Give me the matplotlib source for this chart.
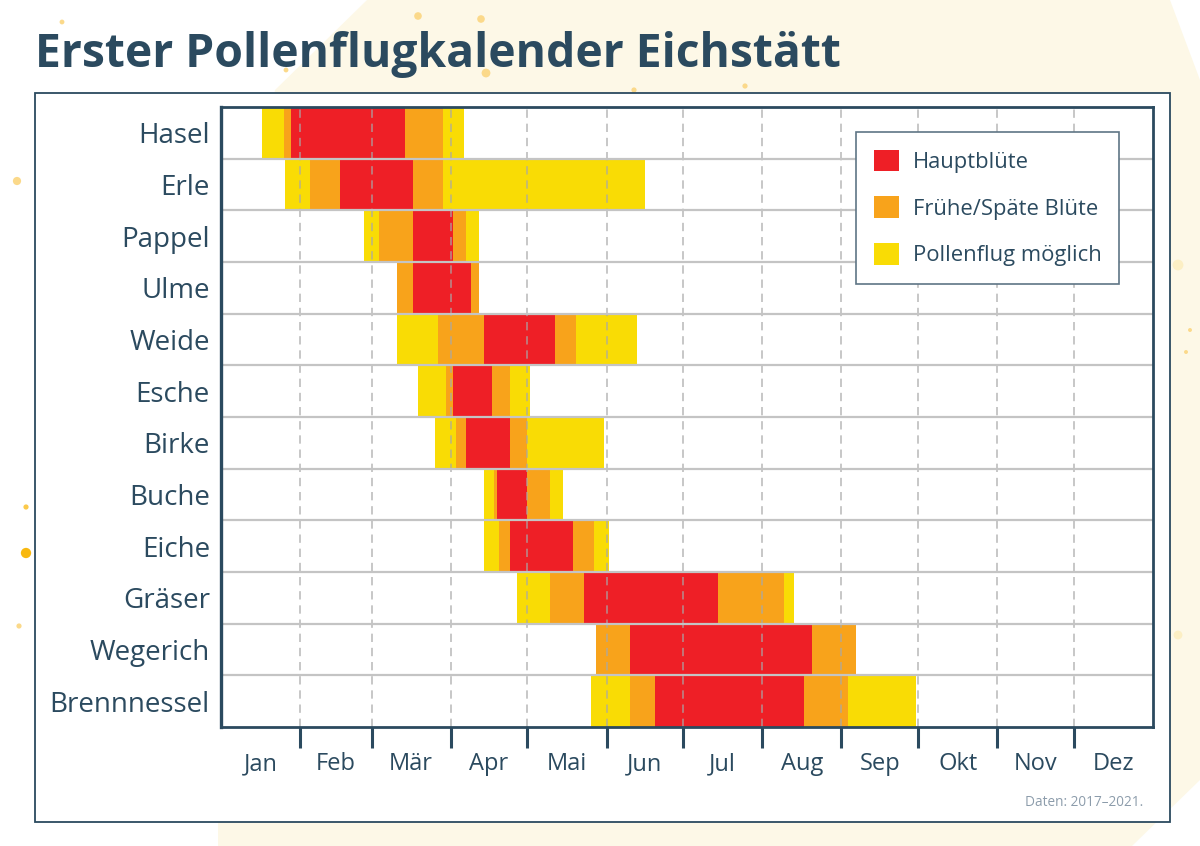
import matplotlib.pyplot as plt
import matplotlib.patches as mpatches
import numpy as np

# plants, top to bottom
plants = ["Hasel", "Erle", "Pappel", "Ulme", "Weide", "Esche", "Birke",
          "Buche", "Eiche", "Gräser", "Wegerich", "Brennnessel"]

# segment boundaries (day of year) and the stage of each segment
# Y = Pollenflug möglich, O = Frühe/Späte Blüte, R = Hauptblüte
bounds = [
    [16, 24.5, 27.5, 72, 87, 95],
    [25, 35, 46.5, 75, 87, 166],
    [56, 62, 75, 91, 96, 101],
    [69, 75, 98, 101],
    [69, 85, 103, 131, 139, 163],
    [77, 88, 91, 106, 113, 121],
    [84, 92, 96, 113, 120, 150],
    [103, 107, 108, 120, 129, 134],
    [103, 109, 113, 138, 146, 152],
    [116, 129, 142, 194.5, 220.5, 224.5],
    [147, 160, 231.5, 248.5],
    [145, 160, 170, 228.5, 245.5, 272],
]
stages = ["YOROY", "YOROY", "YOROY", "ORO", "YOROY", "YOROY", "YOROY",
          "YOROY", "YOROY", "YOROY", "ORO", "YOROY"]

months = ["Jan", "Feb", "Mär", "Apr", "Mai", "Jun", "Jul", "Aug", "Sep",
          "Okt", "Nov", "Dez"]
month_days = [31, 28, 31, 30, 31, 30, 31, 31, 30, 31, 30, 31]

stage_names = {"R": "Hauptblüte", "O": "Frühe/Späte Blüte", "Y": "Pollenflug möglich"}
stage_colors = {"R": "#ee1f26", "O": "#f8a31b", "Y": "#f9dc05"}

dark = "#2b4a5f"
plt.rcParams['font.family'] = ['Open Sans', 'DejaVu Sans']

W, H = 1200, 846
fig = plt.figure(figsize=(W / 100, H / 100), dpi=100)

# background decoration
bg = fig.add_axes([0, 0, 1, 1])
bg.set_xlim(0, W)
bg.set_ylim(H, 0)
bg.axis('off')
bg.add_patch(mpatches.Polygon([(367, 0), (1170, 0), (1200, 80), (1200, 780), (1132, 846),
                               (218, 846), (218, 420), (275, 90)],
                              closed=True, facecolor="#fdf8e7", edgecolor="none"))
dots_x = [62, 418, 481, 286, 486, 634, 745, 17, 26, 26, 19, 1178, 1190, 1186, 1178]
dots_y = [22, 16, 19, 70, 73, 90, 86, 181, 507, 553, 626, 265, 330, 352, 635]
dots_s = [12, 30, 30, 12, 40, 14, 14, 35, 14, 55, 14, 60, 8, 8, 40]
dots_c = ["#fbd98a", "#fbd98a", "#fbd98a", "#fbd98a", "#fbd98a", "#fbd98a", "#fbd98a",
          "#fbd98a", "#fbc94a", "#f8b80f", "#fbd98a", "#fcefc4", "#fbd98a", "#fbd98a", "#fcefc4"]
bg.scatter(dots_x, dots_y, s=dots_s, c=dots_c, edgecolors="none")
bg.add_patch(mpatches.Rectangle((35, 93), 1135, 729, facecolor="white",
                                edgecolor=dark, linewidth=1.3))

fig.text(35 / W, 1 - 67 / H, "Erster Pollenflugkalender Eichstätt", fontsize=33.3,
         fontweight='bold', color=dark, va='baseline', ha='left')
fig.text(1143 / W, 1 - 802 / H, "Daten: 2017–2021.", fontsize=9.8, color="#8c9cab",
         ha='right', va='center')

ax = fig.add_axes([221 / W, 1 - 727 / H, (1153 - 221) / W, (727 - 107) / H])

for i, (b, st) in enumerate(zip(bounds, stages)):
    for k, s in enumerate(st):
        ax.barh(i + 0.5, b[k + 1] - b[k], left=b[k], height=1.0,
                color=stage_colors[s], edgecolor='none', zorder=2)

ax.set_xlim(0, 365)
ax.set_ylim(len(plants), 0)

edges = np.cumsum([0] + month_days)
centers = (edges[:-1] + edges[1:]) / 2

for x in edges[1:-1]:
    ax.axvline(x, color="#a8a8a8", alpha=0.75, lw=1.2, ls=(0, (5, 3.5)), zorder=3)
for y in range(1, len(plants)):
    ax.axhline(y, color="#c4c4c4", lw=1.6, zorder=3)

ax.set_xticks(edges[1:-1])
ax.set_xticklabels([])
ax.tick_params(axis='x', which='major', length=15, width=2.2, color=dark, direction='out')
ax.set_xticks(centers, minor=True)
ax.set_xticklabels(months, minor=True, fontsize=17, color=dark)
ax.tick_params(axis='x', which='minor', length=0, pad=18)

ax.set_yticks(np.arange(len(plants)) + 0.5)
ax.set_yticklabels(plants, fontsize=20, color=dark)
ax.tick_params(axis='y', length=0, pad=8)

for side in ['left', 'right', 'top', 'bottom']:
    ax.spines[side].set_color(dark)
    ax.spines[side].set_linewidth(2.0)
    ax.spines[side].set_zorder(4)
ax.spines['left'].set_linewidth(2.4)

handles = [mpatches.Patch(facecolor=stage_colors[k], edgecolor='none', label=stage_names[k])
           for k in ["R", "O", "Y"]]
leg = ax.legend(handles=handles, loc='upper right', bbox_to_anchor=(0.9635, 0.9597),
                borderaxespad=0, fontsize=15.8, handlelength=1.14, handleheight=1.14,
                labelspacing=1.07, borderpad=0.8, handletextpad=0.64, fancybox=False,
                framealpha=1, edgecolor="#5f7585")
leg.get_frame().set_linewidth(1.2)
leg.set_zorder(5)
for t in leg.get_texts():
    t.set_color(dark)

fig.savefig("out.png", dpi=100)
